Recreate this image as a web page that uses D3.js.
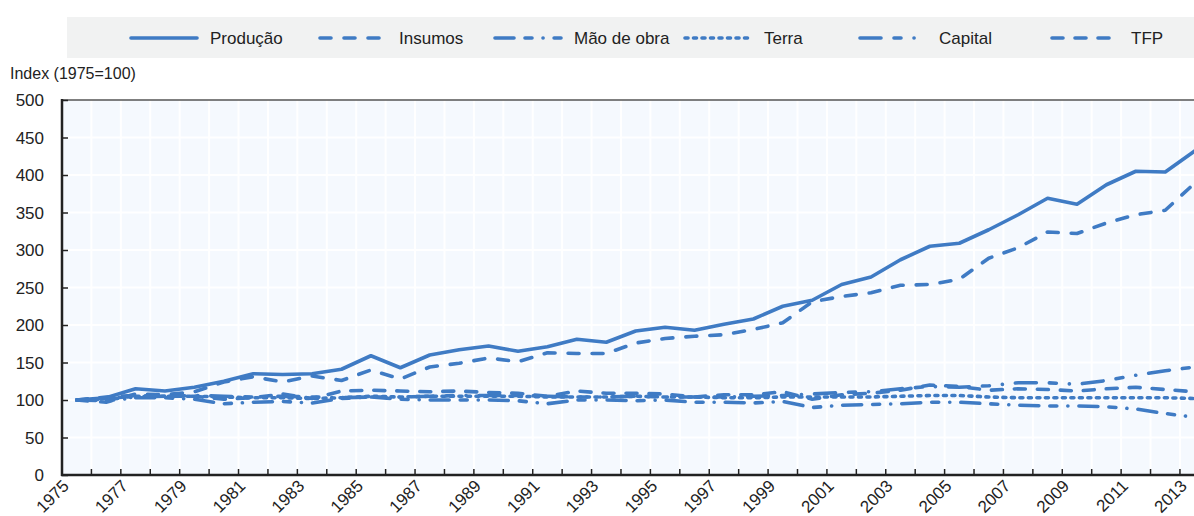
<!DOCTYPE html>
<html>
<head>
<meta charset="utf-8">
<script src="https://cdn.jsdelivr.net/npm/d3@7"></script>
<style>
body { margin: 0; background: #fff; }
svg text { font-family: "Liberation Sans Narrow", "Arial Narrow", "Liberation Sans", sans-serif; fill: #222; }
</style>
</head>
<body>
<div id="chart"></div>
<script>
var years = d3.range(1975, 2014);
var tickYears = d3.range(1975, 2014, 2);
var yTicks = [0, 50, 100, 150, 200, 250, 300, 350, 400, 450, 500];

var producao = [100, 103, 115, 112, 117, 125, 135, 134, 135, 141, 159, 143, 160, 167, 172, 165, 171, 181, 177, 192,
	197, 193, 201, 208, 225, 233, 254, 264, 287, 305, 309, 327, 347, 369, 361, 387, 405, 404, 432];
var insumos = [100, 97, 108, 107, 111, 124, 131, 124, 132, 126, 140, 128, 144, 149, 156, 151, 163, 162, 162, 176,
	182, 185, 187, 194, 203, 231, 238, 243, 253, 254, 261, 289, 303, 324, 322, 336, 347, 353, 389];
var maoDeObra = [100, 99, 103, 103, 101, 95, 97, 98, 96, 102, 104, 101, 100, 100, 100, 99, 95, 100, 100, 99,
	100, 97, 97, 96, 98, 90, 93, 94, 95, 97, 97, 95, 93, 92, 92, 91, 88, 82, 77];
var terra = [100, 102, 105, 105, 105, 104, 103, 103, 102, 103, 105, 104, 105, 105, 105, 105, 104, 104, 104, 105,
	104, 104, 103, 103, 104, 104, 104, 104, 105, 106, 106, 104, 103, 103, 103, 103, 103, 103, 102];
var capital = [100, 101, 104, 105, 106, 105, 104, 105, 104, 103, 104, 104, 105, 106, 106, 106, 105, 104, 104, 105,
	104, 104, 104, 105, 106, 108, 110, 111, 115, 118, 117, 119, 123, 123, 121, 126, 133, 139, 144];
var tfp = [100, 104, 106, 105, 105, 101, 103, 108, 102, 112, 113, 112, 111, 112, 110, 109, 105, 112, 109, 109,
	108, 104, 107, 107, 111, 101, 107, 109, 113, 120, 118, 113, 115, 114, 112, 115, 117, 114, 111];

var seriesNames = ["Produção", "Insumos", "Mão de obra", "Terra", "Capital", "TFP"];
var seriesValues = [producao, insumos, maoDeObra, terra, capital, tfp];
// round caps add the stroke width to every dash
var dashes = [null, "11,13", "19,11,7,11,0.1,11", "3,5.5", "21,13,7,13,0.1,13", "11,12"];

var width = 1194, height = 516;
var color = "#3f7bc4";
var lineWidth = 3.6;
var svg = d3.select("#chart").append("svg")
	.attr("width", width)
	.attr("height", height);

// legend box
var legendX = [131, 320, 495, 685, 860, 1052];
svg.append("rect")
	.attr("x", 67).attr("y", 17)
	.attr("width", 1127).attr("height", 41)
	.attr("fill", "#f1f2f2");
var legend = svg.append("g").selectAll("g")
	.data(seriesNames)
	.enter().append("g")
	.attr("transform", (d, i) => "translate(" + legendX[i] + ",38)");
legend.append("line")
	.attr("x1", 0).attr("x2", 66)
	.attr("stroke", color).attr("stroke-width", lineWidth)
	.attr("stroke-linecap", "round")
	.attr("stroke-dasharray", (d, i) => dashes[i]);
legend.append("text")
	.attr("x", 79).attr("y", 6)
	.attr("font-size", 17)
	.text(d => d);

// plot area
var plotLeft = 62, plotTop = 100, plotBottom = 475;
var x = d3.scaleBand().domain(years).range([plotLeft, plotLeft + 29.42 * years.length]);
var y = d3.scaleLinear().domain([0, 500]).range([plotBottom, plotTop]);

svg.append("rect")
	.attr("x", plotLeft).attr("y", plotTop)
	.attr("width", width - plotLeft).attr("height", plotBottom - plotTop)
	.attr("fill", "#f5f9fe");

var grid = svg.append("g");
grid.selectAll("line.v")
	.data(years.slice(1))
	.enter().append("line")
	.attr("x1", d => x(d)).attr("x2", d => x(d))
	.attr("y1", plotTop).attr("y2", plotBottom)
	.attr("stroke", "#fff").attr("stroke-width", 2);
grid.selectAll("line.h")
	.data(yTicks.slice(1, -1))
	.enter().append("line")
	.attr("x1", plotLeft).attr("x2", width)
	.attr("y1", d => y(d)).attr("y2", d => y(d))
	.attr("stroke", "#fff").attr("stroke-width", 2);

// lines
var line = d3.line()
	.x((d, i) => x(years[i]) + x.bandwidth() / 2)
	.y(d => y(d));
svg.append("g").selectAll("path")
	.data(seriesValues)
	.enter().append("path")
	.attr("d", line)
	.attr("fill", "none")
	.attr("stroke", color)
	.attr("stroke-width", lineWidth)
	.attr("stroke-linejoin", "round")
	.attr("stroke-linecap", "round")
	.attr("stroke-dasharray", (d, i) => dashes[i]);

// top line at 500
svg.append("line")
	.attr("x1", plotLeft).attr("x2", width)
	.attr("y1", y(500)).attr("y2", y(500))
	.attr("stroke", "#555").attr("stroke-width", 1.5);

// y axis
var yAxis = svg.append("g").attr("transform", "translate(" + plotLeft + ",0)")
	.call(d3.axisRight(y).tickValues(yTicks).tickSize(6).tickFormat(""));
yAxis.select(".domain").remove();
yAxis.selectAll(".tick line").attr("stroke", "#222").attr("stroke-width", 1.5);
svg.append("line")
	.attr("x1", plotLeft).attr("x2", plotLeft)
	.attr("y1", plotTop - 1).attr("y2", plotBottom + 1)
	.attr("stroke", "#222").attr("stroke-width", 2.5);
svg.append("g").selectAll("text")
	.data(yTicks)
	.enter().append("text")
	.attr("x", 44).attr("y", d => y(d) + 6)
	.attr("text-anchor", "end")
	.attr("font-size", 17)
	.text(d => d);
svg.append("text")
	.attr("x", 10).attr("y", 79)
	.attr("font-size", 16)
	.text("Index (1975=100)");

// x axis
var xAxis = svg.append("g").attr("transform", "translate(0," + plotBottom + ")")
	.call(d3.axisTop(x).tickValues(years).tickSize(6).tickFormat(""));
xAxis.select(".domain").remove();
xAxis.selectAll(".tick").attr("transform", d => "translate(" + x(d) + ",0)");
xAxis.selectAll(".tick line").attr("stroke", "#222").attr("stroke-width", 1.5);
svg.append("line")
	.attr("x1", plotLeft - 1).attr("x2", width)
	.attr("y1", plotBottom).attr("y2", plotBottom)
	.attr("stroke", "#222").attr("stroke-width", 2.5);
svg.append("g").selectAll("text")
	.data(tickYears)
	.enter().append("text")
	.attr("transform", d => "translate(" + (x(d) + 8) + "," + (plotBottom + 12) + ") rotate(-45)")
	.attr("text-anchor", "end")
	.attr("font-size", 17)
	.text(d => d);
</script>
</body>
</html>
